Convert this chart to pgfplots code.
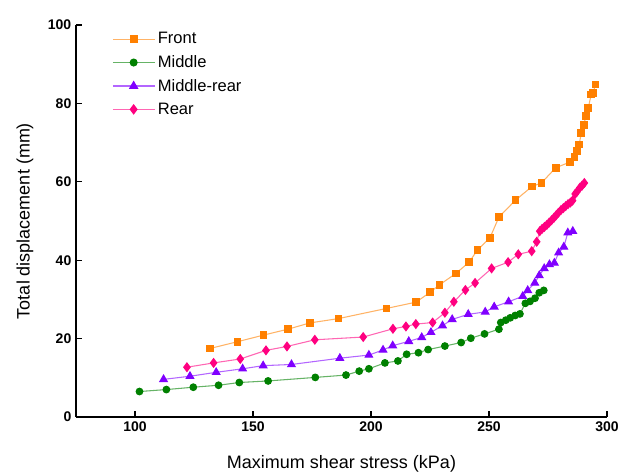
\documentclass[border=0pt]{standalone}
\usepackage{pgfplots}
\pgfplotsset{compat=1.18}
\usepackage{fontspec}
\setmainfont{Liberation Sans}
\definecolor{cFront}{HTML}{FF8000}
\definecolor{cMid}{HTML}{008000}
\definecolor{cMR}{HTML}{8000FF}
\definecolor{cRear}{HTML}{FF0080}
\begin{document}
\begin{tikzpicture}
\begin{axis}[
  scale only axis,
  width=398.25pt, height=294pt,
  xmin=75, xmax=300, ymin=0, ymax=100,
  axis x line*=bottom, axis y line*=left,
  axis line style={line width=0.9pt, -},
  xtick={100,150,200,250,300},
  ytick={0,20,40,60,80,100},
  tick align=inside,
  major tick length=4.5pt,
  tick style={line width=0.9pt, black},
  /pgf/number format/assume math mode=true,
  ticklabel style={font=\bfseries\fontsize{10.5}{12}\selectfont},
  xlabel={Maximum shear stress (kPa)},
  ylabel={Total displacement (mm)},
  label style={font=\fontsize{13.5}{15}\selectfont},
  xlabel style={yshift=-11pt},
  ylabel style={yshift=4pt},
  legend style={at={(axis description cs:0.06,0.995)}, anchor=north west, draw=none, fill=none,
    font=\fontsize{12.4}{14}\selectfont, row sep=3.2pt},
  legend cell align=left,
  legend image code/.code={\draw[mark repeat=2,mark phase=2,line width=1pt,#1] plot coordinates {(0cm,0cm) (0.55cm,0cm) (1.1cm,0cm)};},
]
\addplot[color=cFront!60!white, line width=0.8pt, mark=square*, mark size=2.5pt, mark options={fill=cFront, draw=cFront}] coordinates {
(131.9,17.5) (143.4,19.2) (154.5,20.9) (164.8,22.4) (174.1,24.0) (186.2,25.1) (206.6,27.7) (219.1,29.3) (225.0,31.8) (229.0,33.7) (235.9,36.6) (241.6,39.5) (245.1,42.6) (250.4,45.7) (254.2,51.0) (261.2,55.3) (268.2,58.8) (272.2,59.7) (278.3,63.6) (284.2,65.0) (286.2,66.3) (287.2,67.9) (288.2,69.5) (289.1,72.4) (290.1,74.5) (291.1,76.7) (292.1,78.9) (293.3,82.3) (294.1,82.6) (295.1,84.8)
};
\addlegendentry{Front}
\addplot[color=cMid!60!white, line width=0.8pt, mark=*, mark size=2.5pt, mark options={fill=cMid, draw=cMid}] coordinates {
(101.9,6.5) (113.3,7.0) (124.7,7.6) (135.4,8.1) (144.2,8.8) (156.4,9.2) (176.4,10.1) (189.4,10.7) (195.0,11.7) (199.1,12.3) (205.9,13.8) (211.4,14.3) (215.1,16.0) (220.1,16.4) (224.2,17.2) (231.3,18.1) (238.2,19.0) (242.3,20.1) (248.1,21.2) (254.2,22.4) (255.0,24.1) (257.1,24.7) (259.0,25.3) (261.1,25.9) (263.1,26.3) (265.4,29.0) (267.4,29.5) (269.5,30.3) (271.3,31.7) (273.2,32.3)
};
\addlegendentry{Middle}
\addplot[color=cMR!60!white, line width=0.8pt, mark=triangle*, mark size=3.2pt, mark options={fill=cMR, draw=cMR}] coordinates {
(112.1,9.6) (123.3,10.4) (134.4,11.4) (145.6,12.3) (154.3,13.1) (166.3,13.4) (186.8,15.0) (199.1,15.8) (205.1,17.1) (209.2,18.2) (216.0,19.3) (221.5,20.3) (225.4,21.6) (230.3,23.3) (234.4,24.9) (241.2,26.2) (248.4,26.8) (252.2,28.1) (258.3,29.4) (264.3,30.8) (266.4,32.3) (269.4,34.2) (271.3,36.1) (273.4,37.9) (275.6,38.9) (277.7,39.3) (279.5,41.9) (281.7,43.4) (283.4,47.0) (285.5,47.4)
};
\addlegendentry{Middle-rear}
\addplot[color=cRear!60!white, line width=0.8pt, mark=diamond*, mark size=3.2pt, mark options={fill=cRear, draw=cRear}] coordinates {
(122.0,12.7) (133.3,13.8) (144.6,14.8) (155.5,17.0) (164.4,18.0) (176.2,19.7) (196.7,20.4) (209.3,22.5) (214.8,23.1) (219.0,23.7) (226.1,24.1) (231.3,26.6) (235.1,29.4) (240.0,32.4) (244.1,34.2) (251.1,37.9) (258.1,39.5) (262.4,41.5) (268.1,42.3) (270.2,44.7) (271.5,47.4) (272.5,48.0) (273.5,48.5) (274.5,49.0) (275.5,49.6) (276.5,50.2) (277.5,50.8) (278.5,51.5) (279.4,52.1) (280.5,52.8) (281.5,53.3) (282.5,53.8) (283.5,54.3) (284.5,54.7) (285.4,55.2) (286.5,56.9) (287.2,57.4) (288.5,58.5) (289.4,59.0) (290.4,59.7)
};
\addlegendentry{Rear}
\end{axis}
\pgfresetboundingbox
\path (current axis.south west) ++(-57pt,-43.5pt) rectangle ++(468pt,356.25pt);
\end{tikzpicture}
\end{document}
